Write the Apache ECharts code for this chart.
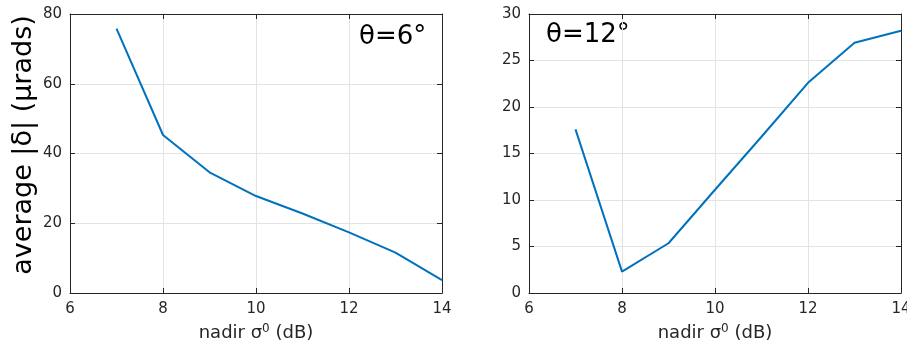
<!DOCTYPE html>
<html><head><meta charset="utf-8">
<script src="https://cdn.jsdelivr.net/npm/echarts@6/dist/echarts.min.js"></script>
<style>html,body{margin:0;padding:0;background:#fff}#c{width:907px;height:347px}</style>
</head><body><div id="c"></div>
<script>
const xValues = [7, 8, 9, 10, 11, 12, 13, 14];
const delta6 = [75.8, 45.3, 34.6, 27.8, 22.8, 17.4, 11.6, 3.7];
const delta12 = [17.6, 2.3, 5.35, 11.1, 16.8, 22.6, 26.9, 28.2];
const xTicks = [6, 8, 10, 12, 14];
const yTicksLeft = [0, 20, 40, 60, 80];
const yTicksRight = [0, 5, 10, 15, 20, 25, 30];

const FONT = 'DejaVu Sans';
const TXT = '#262626';
const xName = '{n|nadir σ}{s|0}{n| (dB)}';
const nameRich = {n:{fontSize:18,color:TXT,fontFamily:FONT}, s:{fontSize:12,color:TXT,fontFamily:FONT,verticalAlign:'top',padding:[0,0,9,0]}};

function mkX(grid, main) {
  return {
    type:'value', gridIndex:grid, min:6, max:14, interval:2,
    position: main ? 'bottom' : 'top',
    axisLine:{show:true, onZero:false, lineStyle:{color:TXT, width:1}},
    axisTick:{show:true, inside:true, length:5, lineStyle:{color:TXT}},
    axisLabel:{show:main, fontSize:15, color:TXT, fontFamily:FONT, margin:9},
    splitLine:{show:main, lineStyle:{color:'#e3e3e3', width:1}},
    name: main ? xName : '', nameLocation:'middle', nameGap:30,
    nameTextStyle:{rich:nameRich}
  };
}
function mkY(grid, main, max, interval) {
  return {
    type:'value', gridIndex:grid, min:0, max:max, interval:interval,
    position: main ? 'left' : 'right',
    axisLine:{show:true, onZero:false, lineStyle:{color:TXT, width:1}},
    axisTick:{show:true, inside:true, length:5, lineStyle:{color:TXT}},
    axisLabel:{show:main, fontSize:15, color:TXT, fontFamily:FONT, margin:8},
    splitLine:{show:main, lineStyle:{color:'#e3e3e3', width:1}}
  };
}
const chart = echarts.init(document.getElementById('c'), null, {renderer:'canvas'});
chart.setOption({
  animation:false,
  backgroundColor:'#fff',
  grid:[
    {left:70, right:465, top:14, bottom:54, outerBoundsMode:'none', containLabel:false},
    {left:529, right:6, top:14, bottom:54, outerBoundsMode:'none', containLabel:false}
  ],
  xAxis:[mkX(0,true), mkX(0,false), mkX(1,true), mkX(1,false)],
  yAxis:[mkY(0,true,80,20), mkY(0,false,80,20), mkY(1,true,30,5), mkY(1,false,30,5)],
  series:[
    {type:'line', xAxisIndex:0, yAxisIndex:0, data:xValues.map((x,i)=>[x,delta6[i]]), showSymbol:false, lineStyle:{color:'#0072BD', width:2}},
    {type:'line', xAxisIndex:2, yAxisIndex:2, data:xValues.map((x,i)=>[x,delta12[i]]), showSymbol:false, lineStyle:{color:'#0072BD', width:2}}
  ],
  graphic:[
    {type:'text', x:24, y:145, rotation:Math.PI/2, style:{text:'average |δ| (μrads)', fontSize:27, fontFamily:FONT, fill:'#000', align:'center', verticalAlign:'middle'}},
    {type:'text', left:359, top:24, style:{text:'θ=6°', fontSize:26, fontFamily:FONT, fill:'#000'}},
    {type:'text', left:546, top:22, style:{text:'θ=12°', fontSize:26, fontFamily:FONT, fill:'#000'}}
  ]
});
</script></body></html>
